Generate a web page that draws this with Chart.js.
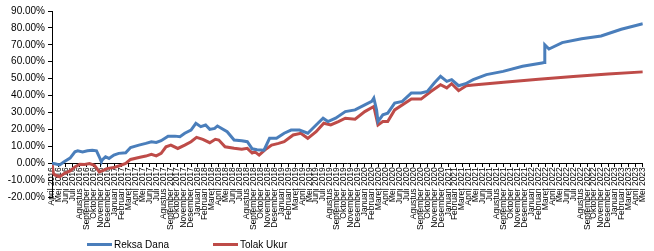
<!DOCTYPE html>
<html>
<head>
<meta charset="utf-8">
<script src="https://cdn.jsdelivr.net/npm/chart.js@4.4.0/dist/chart.umd.min.js"></script>
<style>
    html, body { margin: 0; padding: 0; background: #fff; }
    #wrap { position: relative; width: 654px; height: 251px; }
    .legend { position: absolute; top: 237px; height: 14px; display: flex; align-items: center;
              font: 10px "Liberation Sans", Arial, sans-serif; color: #000; }
    .legend .swatch { display: inline-block; width: 25px; height: 3px; margin-right: 2px; }
</style>
</head>
<body>
<div id="wrap">
    <canvas id="chart" width="654" height="251"></canvas>
    <div class="legend" style="left:87px"><span class="swatch" style="background:#4a7ebb"></span>Reksa Dana</div>
    <div class="legend" style="left:213px"><span class="swatch" style="background:#be4b48"></span>Tolak Ukur</div>
</div>
<script>
const monthNames = ['Januari', 'Februari', 'Maret', 'April', 'Mei', 'Juni', 'Juli',
    'Agustus', 'September', 'Oktober', 'November', 'Desember'];

// x = months since April 2016
const rdMonths = [0, 0.4, 1.1, 1.8, 2.6, 3.3, 3.7, 4.4, 5.1, 5.8, 6.4, 6.8, 7.1, 7.2, 7.7, 8.2, 8.9, 9.6,
    10.6, 11.3, 12.5, 13.5, 14.3, 15.0, 15.7, 16.7, 17.7, 18.4, 19.1, 20.0, 20.7, 21.4, 22.1, 22.7, 23.4,
    23.8, 25.2, 26.2, 27.3, 28.1, 28.8, 29.5, 30.5, 31.3, 32.3, 33.4, 34.4, 35.6, 36.8, 38.0, 39.0, 39.7,
    40.8, 42.2, 43.6, 45.0, 46.0, 46.3, 46.7, 46.9, 47.6, 48.3, 49.3, 50.4, 51.7, 53.1, 54.0, 55.0, 55.9,
    56.8, 57.5, 58.5, 59.5, 60.6, 62.5, 64.9, 67.7, 70.5, 70.8, 70.9, 71.5, 73.4, 76.2, 79.0, 81.9, 85];
const rdValues = [0, -0.3, -1.0, 1.0, 3.0, 6.7, 7.3, 6.7, 7.3, 7.7, 7.3, 3.8, 0.8, 1.8, 3.8, 2.8, 4.8, 5.8,
    6.1, 9.3, 10.7, 11.7, 12.7, 12.3, 13.3, 16.0, 16.0, 15.7, 17.7, 19.6, 23.6, 21.6, 22.6, 20.0, 20.6,
    22.0, 18.6, 13.7, 13.3, 12.7, 8.5, 8.0, 7.7, 14.7, 14.7, 17.7, 19.6, 19.6, 17.7, 22.6, 26.6, 24.6,
    26.6, 30.5, 31.5, 34.5, 36.5, 38.5, 31.5, 24.6, 28.6, 29.6, 35.5, 36.5, 41.5, 41.5, 42.4, 47.4, 51.4,
    48.4, 49.4, 45.8, 47.0, 49.4, 52.4, 54.3, 57.3, 59.3, 59.5, 70.0, 67.5, 71.3, 73.6, 75.2, 79.2, 82.5];

const tuMonths = [0, 0.2, 0.4, 1.1, 1.8, 2.6, 3.3, 4.0, 4.7, 5.4, 6.1, 6.8, 7.4, 7.9, 8.9, 9.9, 10.6, 11.3,
    12.5, 13.5, 14.3, 15.0, 15.7, 16.4, 17.1, 18.1, 19.1, 20.0, 20.8, 21.7, 22.7, 23.5, 24.0, 24.9, 26.2,
    27.3, 28.1, 28.8, 29.2, 29.8, 30.6, 31.6, 32.6, 33.4, 34.7, 35.8, 36.8, 38.0, 39.1, 40.1, 41.2, 42.2,
    43.6, 45.0, 46.3, 46.9, 47.6, 48.3, 49.3, 51.7, 53.1, 54.5, 55.9, 56.8, 57.5, 58.5, 59.6, 60.6, 65, 70,
    75, 80, 85];
const tuValues = [0, -6.0, -7.0, -8.0, -6.0, -4.6, -2.2, -0.6, -0.8, -0.2, -1.2, -5.2, -4.2, -3.2, -2.6,
    -1.2, -0.2, 2.2, 3.4, 4.2, 5.2, 4.3, 5.8, 9.7, 10.7, 8.7, 10.7, 12.7, 15.3, 14.1, 12.1, 14.1, 13.7, 9.7,
    8.8, 8.2, 8.8, 6.0, 6.7, 4.8, 7.7, 10.7, 11.7, 12.7, 16.7, 17.7, 14.7, 18.6, 23.6, 22.6, 24.6, 26.6,
    26.0, 30.5, 33.5, 22.6, 24.6, 24.6, 31.5, 37.9, 37.9, 42.4, 46.4, 44.5, 47.0, 42.9, 45.8, 46.2, 47.8,
    49.6, 51.3, 52.8, 54.0];

const monthLabels = [];
for (let i = 0; i <= 85; i++) {
    const m = (3 + i) % 12;
    const y = 2016 + Math.floor((3 + i) / 12);
    monthLabels.push(monthNames[m] + ' ' + y);
}

const toPoints = (xs, ys) => xs.map((x, i) => ({ x: x, y: ys[i] }));
const font = { family: '"Liberation Sans", Arial, sans-serif' };

new Chart(document.getElementById('chart'), {
    type: 'line',
    data: {
        datasets: [
            { label: 'Reksa Dana', data: toPoints(rdMonths, rdValues), borderColor: '#4a7ebb', borderWidth: 3, pointRadius: 0, tension: 0 },
            { label: 'Tolak Ukur', data: toPoints(tuMonths, tuValues), borderColor: '#be4b48', borderWidth: 3, pointRadius: 0, tension: 0 }
        ]
    },
    options: {
        responsive: false,
        animation: false,
        layout: { padding: { top: 11, right: 2, bottom: 54, left: 0 } },
        plugins: { legend: { display: false }, tooltip: { enabled: false } },
        scales: {
            x: {
                type: 'linear',
                position: { y: 0 },
                min: 0, max: 85,
                grid: { drawOnChartArea: false, color: '#000', tickLength: 3 },
                border: { color: '#000', width: 1 },
                afterBuildTicks: (scale) => { scale.ticks = monthLabels.map((_, i) => ({ value: i })); },
                ticks: {
                    autoSkip: false, maxRotation: 90, minRotation: 90, padding: 1,
                    color: '#000', font: { ...font, size: 8.5 },
                    callback: (v) => monthLabels[v]
                }
            },
            y: {
                min: -20, max: 90,
                afterFit: (scale) => { scale.width = 52; },
                grid: { drawOnChartArea: false, color: '#000', tickLength: 4 },
                border: { color: '#000', width: 1 },
                ticks: {
                    stepSize: 10, padding: 3, color: '#000', font: { ...font, size: 10 },
                    callback: (v) => v.toFixed(2) + '%'
                }
            }
        }
    }
});
</script>
</body>
</html>
